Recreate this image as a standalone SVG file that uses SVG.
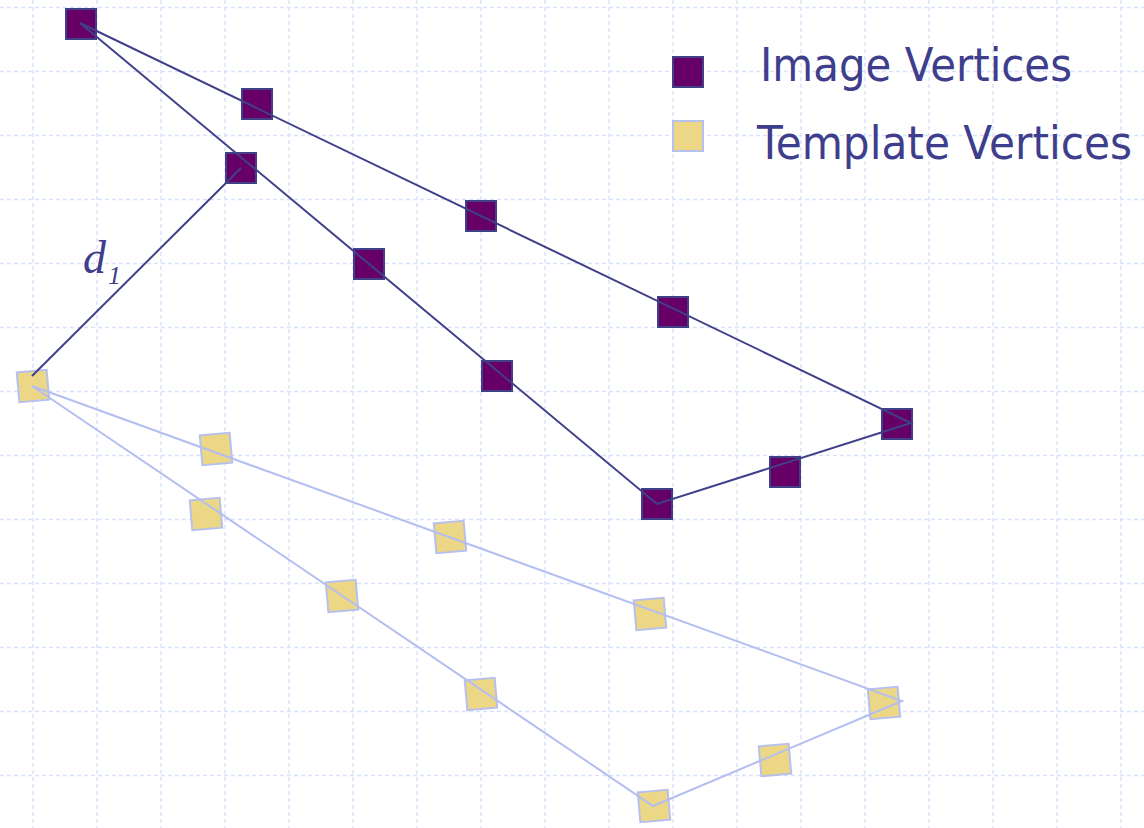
<svg xmlns="http://www.w3.org/2000/svg" width="1144" height="828" viewBox="0 0 1144 828">
<defs>
<style>
.grid line{stroke:#d8e1fb;stroke-width:1.4;stroke-dasharray:4 3}
.img rect{fill:#660066;stroke:#40408a;stroke-width:2}
.tpl rect{fill:#ebd785;stroke:#b6c0ee;stroke-width:2}
.iline{fill:none;stroke:#40408a;stroke-width:2;stroke-linejoin:miter}
.tline{fill:none;stroke:#b4bef0;stroke-width:2}
.leg{font-family:"DejaVu Sans","Liberation Sans",sans-serif;font-size:46px;fill:#3e3e8c}
.lbl{font-family:"Liberation Serif",serif;font-style:italic;fill:#3e3e8c}
</style>
</defs>
<rect width="1144" height="828" fill="#ffffff"/>
<g class="grid">
<line x1="33" y1="0" x2="33" y2="828"/><line x1="97" y1="0" x2="97" y2="828"/><line x1="161" y1="0" x2="161" y2="828"/><line x1="225" y1="0" x2="225" y2="828"/><line x1="289" y1="0" x2="289" y2="828"/><line x1="353" y1="0" x2="353" y2="828"/><line x1="417" y1="0" x2="417" y2="828"/><line x1="481" y1="0" x2="481" y2="828"/><line x1="545" y1="0" x2="545" y2="828"/><line x1="609" y1="0" x2="609" y2="828"/><line x1="673" y1="0" x2="673" y2="828"/><line x1="737" y1="0" x2="737" y2="828"/><line x1="801" y1="0" x2="801" y2="828"/><line x1="865" y1="0" x2="865" y2="828"/><line x1="929" y1="0" x2="929" y2="828"/><line x1="993" y1="0" x2="993" y2="828"/><line x1="1057" y1="0" x2="1057" y2="828"/><line x1="1121" y1="0" x2="1121" y2="828"/>
<line x1="0" y1="7.5" x2="1144" y2="7.5"/><line x1="0" y1="71.5" x2="1144" y2="71.5"/><line x1="0" y1="135.5" x2="1144" y2="135.5"/><line x1="0" y1="199.5" x2="1144" y2="199.5"/><line x1="0" y1="263.5" x2="1144" y2="263.5"/><line x1="0" y1="327.5" x2="1144" y2="327.5"/><line x1="0" y1="391.5" x2="1144" y2="391.5"/><line x1="0" y1="455.5" x2="1144" y2="455.5"/><line x1="0" y1="519.5" x2="1144" y2="519.5"/><line x1="0" y1="583.5" x2="1144" y2="583.5"/><line x1="0" y1="647.5" x2="1144" y2="647.5"/><line x1="0" y1="711.5" x2="1144" y2="711.5"/><line x1="0" y1="775.5" x2="1144" y2="775.5"/>
</g>
<g id="legend">
<g class="img"><rect x="673" y="57" width="30" height="30"/></g>
<g class="tpl"><rect x="673" y="121" width="30" height="30"/></g>
<text class="leg" x="760" y="81" textLength="312" lengthAdjust="spacingAndGlyphs">Image Vertices</text>
<text class="leg" x="757" y="159" textLength="375" lengthAdjust="spacingAndGlyphs">Template Vertices</text>
</g>
<g id="template-vertices" class="tpl">
<g id="t1" transform="translate(33,386) rotate(-5)"><rect x="-15" y="-15" width="30" height="30"/></g>
<g id="t2" transform="translate(216,449) rotate(-5)"><rect x="-15" y="-15" width="30" height="30"/></g>
<g id="t3" transform="translate(206,514) rotate(-5)"><rect x="-15" y="-15" width="30" height="30"/></g>
<g id="t4" transform="translate(450,537) rotate(-5)"><rect x="-15" y="-15" width="30" height="30"/></g>
<g id="t5" transform="translate(342,596) rotate(-5)"><rect x="-15" y="-15" width="30" height="30"/></g>
<g id="t6" transform="translate(650,614) rotate(-5)"><rect x="-15" y="-15" width="30" height="30"/></g>
<g id="t7" transform="translate(481,694) rotate(-5)"><rect x="-15" y="-15" width="30" height="30"/></g>
<g id="t8" transform="translate(654,806) rotate(-5)"><rect x="-15" y="-15" width="30" height="30"/></g>
<g id="t9" transform="translate(775,760) rotate(-5)"><rect x="-15" y="-15" width="30" height="30"/></g>
<g id="t10" transform="translate(884,703) rotate(-5)"><rect x="-15" y="-15" width="30" height="30"/></g>
</g>
<g id="image-vertices" class="img">
<g id="i1"><rect x="66" y="9" width="30" height="30"/></g>
<g id="i2"><rect x="242" y="89" width="30" height="30"/></g>
<g id="i3"><rect x="226" y="153" width="30" height="30"/></g>
<g id="i4"><rect x="466" y="201" width="30" height="30"/></g>
<g id="i5"><rect x="354" y="249" width="30" height="30"/></g>
<g id="i6"><rect x="658" y="297" width="30" height="30"/></g>
<g id="i7"><rect x="482" y="361" width="30" height="30"/></g>
<g id="i8"><rect x="882" y="409" width="30" height="30"/></g>
<g id="i9"><rect x="770" y="457" width="30" height="30"/></g>
<g id="i10"><rect x="642" y="489" width="30" height="30"/></g>
</g>
<g id="connectors">
<polygon class="tline" points="32,386 902,701 653,806"/>
<polygon class="iline" points="80,23 911,423 657,504"/>
<line class="iline" x1="32" y1="376" x2="241" y2="168"/>
</g>
<g id="label-d1">
<text class="lbl" x="83" y="273" font-size="46">d<tspan font-size="26" dx="2" dy="11">1</tspan></text>
</g>
</svg>
